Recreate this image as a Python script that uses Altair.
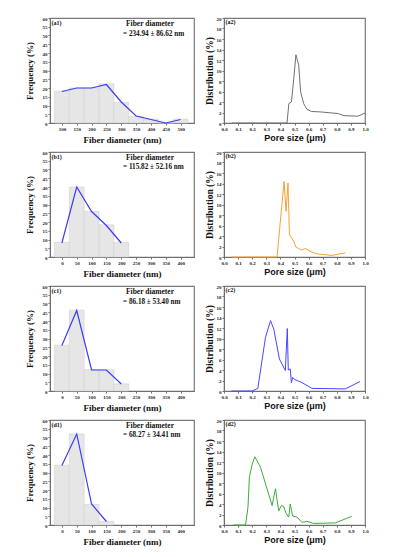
import altair as alt
import pandas as pd

# ---------------- data ----------------
a1_bins = [100, 150, 200, 250, 300, 350, 400, 450, 500]
a1_freq = [18.2, 20, 20, 22.4, 11.8, 3.8, 2.2, 0, 2.2]
a1_line = [18, 20, 20, 22, 12, 4, 2, 0, 2]
a1_stat = "= 234.94 ± 86.62 nm"

b1_bins = [0, 50, 100, 150, 200]
b1_freq = [8.4, 40, 26, 18.4, 8.4]
b1_line = [8, 40, 26, 18, 8]
b1_stat = "= 115.82 ± 52.16 nm"

c1_bins = [0, 50, 100, 150, 200]
c1_freq = [26.2, 46.2, 12.2, 12.2, 4.1]
c1_line = [26, 46, 12, 12, 4]
c1_stat = "= 86.18 ± 53.40 nm"

d1_bins = [0, 50, 100, 150]
d1_freq = [34.2, 52, 11.8, 2.1]
d1_line = [34, 52, 12, 2]
d1_stat = "= 68.27 ± 34.41 nm"

a2_x = [0.054, 0.447, 0.46, 0.478, 0.494, 0.51, 0.53, 0.543, 0.565, 0.588, 0.62,
        0.69, 0.81, 0.85, 0.95, 1.0]
a2_y = [0, 0, 3.7, 4.0, 8.2, 13.0, 11.0, 6.0, 3.7, 2.6, 2.2, 2.1, 1.8, 1.4, 1.3, 1.9]

b2_x = [0.054, 0.376, 0.426, 0.44, 0.454, 0.464, 0.478, 0.494, 0.51, 0.53, 0.548,
        0.565, 0.58, 0.61, 0.66, 0.765, 0.86]
b2_y = [0, 0, 14.4, 8.7, 14.1, 4.3, 3.7, 3.0, 1.9, 1.6, 1.3, 1.5, 1.6, 1.1, 0.6, 0.3, 0.8]

c2_x = [0.054, 0.2, 0.24, 0.294, 0.33, 0.353, 0.393, 0.435, 0.449, 0.456, 0.47,
        0.478, 0.487, 0.5, 0.553, 0.624, 0.86, 0.965]
c2_y = [0, 0, 0.5, 10.2, 13.4, 11.8, 6.1, 3.9, 11.9, 4.0, 4.2, 1.6, 2.6, 2.2, 1.6,
        0.5, 0.4, 1.8]

d2_x = [0.066, 0.153, 0.17, 0.18, 0.2, 0.219, 0.259, 0.341, 0.365, 0.388, 0.407,
        0.424, 0.44, 0.459, 0.47, 0.487, 0.518, 0.553, 0.588, 0.635, 0.79, 0.906]
d2_y = [0, 0, 3.4, 9.1, 11.6, 13.0, 11.0, 3.7, 6.9, 2.7, 3.7, 3.5, 2.2, 1.5, 4.0,
        1.7, 1.5, 0.5, 0.7, 0.3, 0.4, 1.65]

freq_ticks = list(range(0, 61, 5))
dist_ticks = list(range(0, 21, 2))
pore_ticks = [round(i * 0.1, 1) for i in range(11)]

SERIF = "Liberation Serif"
SANS = "Liberation Sans"
AX_GREY = "#6e6e6e"

LW, LH = 144, 105
RW, RH = 141, 105


def axis(values, title, title_font, title_size, title_weight, pad, fmt=None):
    kw = dict(values=values, title=title, grid=False, tickSize=2, tickColor=AX_GREY,
              domainColor=AX_GREY, labelFont=SERIF, labelFontSize=5, labelFontWeight="bold",
              labelPadding=1, labelOverlap=False, labelFlush=False, labelColor="#222",
              titleFont=title_font, titleFontSize=title_size, titleFontWeight=title_weight,
              titleColor="#111", titlePadding=pad)
    if fmt:
        kw["format"] = fmt
    return alt.Axis(**kw)


def text_layer(txt, x, y, size):
    return alt.Chart(pd.DataFrame({"t": [txt]})).mark_text(
        align="left", baseline="middle", font=SERIF, fontSize=size, fontWeight="bold",
        color="#111").encode(x=alt.value(x), y=alt.value(y), text="t:N")


def left_panel(bins, freq, line, domain, ticks, label, stat, dy):
    df = pd.DataFrame({"c": bins, "f": freq, "l": line,
                       "x0": [b - 25 for b in bins], "x1": [b + 25 for b in bins]})
    xs = alt.Scale(domain=domain, nice=False, zero=False)
    ys = alt.Scale(domain=[0, 60], nice=False)
    xa = axis(ticks, "Fiber diameter (nm)", SERIF, 9, "bold", 4)
    ya = axis(freq_ticks, "Frequency (%)", SERIF, 9, "bold", 8)
    bars = alt.Chart(df).mark_bar(fill="#e6e6e6", stroke="#d2d2d2", strokeWidth=0.6).encode(
        x=alt.X("x0:Q", scale=xs, axis=xa), x2="x1:Q",
        y=alt.Y("f:Q", scale=ys, axis=ya), y2=alt.datum(0))
    ln = alt.Chart(df).mark_line(color="#3c3cf5", strokeWidth=1.2).encode(
        x=alt.X("c:Q", scale=xs, axis=xa), y=alt.Y("l:Q", scale=ys, axis=ya))
    return alt.layer(
        bars, ln,
        text_layer(label, 1.5, 5, 6),
        text_layer("Fiber diameter", 76, 6, 7.5),
        text_layer(stat, 73, 6 + dy, 7.2),
    ).properties(width=LW, height=LH)


def right_panel(xv, yv, color, label):
    df = pd.DataFrame({"x": xv, "y": yv})
    xs = alt.Scale(domain=[0, 1], nice=False)
    ys = alt.Scale(domain=[0, 20], nice=False)
    ln = alt.Chart(df).mark_line(color=color, strokeWidth=1.0).encode(
        x=alt.X("x:Q", scale=xs,
                axis=axis(pore_ticks, "Pore size (μm)", SANS, 9, "bold", 2, ".1f")),
        y=alt.Y("y:Q", scale=ys,
                axis=axis(dist_ticks, "Distribution (%)", SERIF, 9.5, "bold", 2)))
    return alt.layer(ln, text_layer(label, 1.5, 4, 6)).properties(width=RW, height=RH)


dom_a = [60, 545]
dom_b = [-40, 445]
tick_a = list(range(100, 501, 50))
tick_b = list(range(0, 401, 50))

rows = [
    alt.hconcat(left_panel(a1_bins, a1_freq, a1_line, dom_a, tick_a, "(a1)", a1_stat, 10),
                right_panel(a2_x, a2_y, "#707070", "(a2)"), spacing=8),
    alt.hconcat(left_panel(b1_bins, b1_freq, b1_line, dom_b, tick_b, "(b1)", b1_stat, 9),
                right_panel(b2_x, b2_y, "#f7a035", "(b2)"), spacing=8),
    alt.hconcat(left_panel(c1_bins, c1_freq, c1_line, dom_b, tick_b, "(c1)", c1_stat, 10),
                right_panel(c2_x, c2_y, "#4646ff", "(c2)"), spacing=8),
    alt.hconcat(left_panel(d1_bins, d1_freq, d1_line, dom_b, tick_b, "(d1)", d1_stat, 9),
                right_panel(d2_x, d2_y, "#3faa3f", "(d2)"), spacing=8),
]

chart = alt.vconcat(*rows, spacing=4).properties(
    padding={"left": 16, "top": 7, "right": 5, "bottom": 0},
    background="white",
).configure_view(stroke="#7a7a7a", strokeWidth=1.2)

chart.save("out.html", embed_options={"renderer": "svg", "actions": False})
